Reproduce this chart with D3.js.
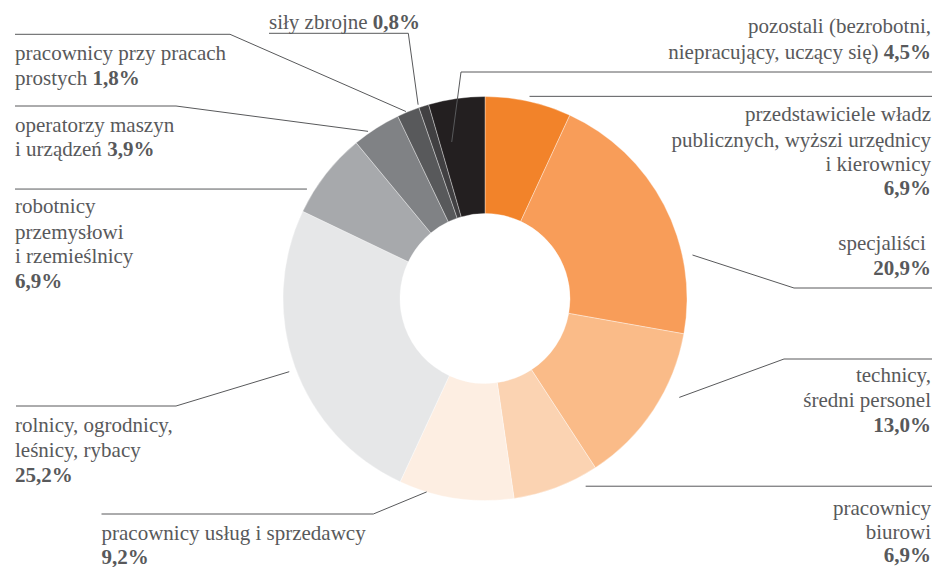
<!DOCTYPE html>
<html>
<head>
<meta charset="utf-8">
<script src="https://cdn.jsdelivr.net/npm/d3@7"></script>
<style>
  html, body { margin: 0; padding: 0; background: #fff; }
  svg { display: block; }
  text { font-family: "Liberation Serif", "Times New Roman", serif; font-size: 21px; fill: #58595b; }
  .pct { font-weight: bold; }
</style>
</head>
<body>
<svg id="chart" width="936" height="567"></svg>
<script>
// ---- data ----
const categories = [
  "przedstawiciele władz publicznych, wyżsi urzędnicy i kierownicy",
  "specjaliści",
  "technicy, średni personel",
  "pracownicy biurowi",
  "pracownicy usług i sprzedawcy",
  "rolnicy, ogrodnicy, leśnicy, rybacy",
  "robotnicy przemysłowi i rzemieślnicy",
  "operatorzy maszyn i urządzeń",
  "pracownicy przy pracach prostych",
  "siły zbrojne",
  "pozostali (bezrobotni, niepracujący, uczący się)"
];
const values = [6.9, 20.9, 13.0, 6.9, 9.2, 25.2, 6.9, 3.9, 1.8, 0.8, 4.5];
const colors = ["#f2832a", "#f89d59", "#fabb88", "#fbd3b2", "#fdeee2", "#e6e7e8",
                "#a7a9ac", "#808285", "#58595b", "#414042", "#231f20"];
const labelLines = [
  ["przedstawiciele władz", "publicznych, wyższi urzędnicy", "i kierownicy"],
  ["specjaliści\u00a0"],
  ["technicy,", "średni personel"],
  ["pracownicy", "biurowi"],
  ["pracownicy usług i sprzedawcy"],
  ["rolnicy, ogrodnicy,", "leśnicy, rybacy"],
  ["robotnicy", "przemysłowi", "i rzemieślnicy"],
  ["operatorzy maszyn", "i urządzeń"],
  ["pracownicy przy pracach", "prostych"],
  ["siły zbrojne"],
  ["pozostali (bezrobotni,", "niepracujący, uczący się)"]
];

// ---- layout (positions only) ----
const W = 936, H = 567;
const cx = 485, cy = 298.5, rOuter = 202, rInner = 85;
const layout = [
  { r: 207, da: 0,    elbow: null,          end: 932, tx: 931, anchor: "end",   base: [121, 146.5, 171, 195], inline: false },
  { r: 212, da: 15.7, elbow: [794, 288],    end: 932, tx: 931, anchor: "end",   base: [250, 275], inline: false },
  { r: 218, da: -6.5, elbow: [784, 359],    end: 932, tx: 931, anchor: "end",   base: [382, 407, 432], inline: false },
  { r: 213, da: -7.5, elbow: null,          end: 932, tx: 931, anchor: "end",   base: [515, 538.5, 562], inline: false },
  { r: 202, da: 8.5,  elbow: [373.3, 514],  end: 101.5, tx: 101.5, anchor: "start", base: [540, 563.5], inline: false },
  { r: 209, da: -0.7, elbow: [176, 406],    end: 16,  tx: 15,  anchor: "start", base: [431.7, 457, 481.7], inline: false },
  { r: 209, da: -6.4, elbow: null,          end: 15,  tx: 15,  anchor: "start", base: [213, 238.5, 263, 288], inline: false },
  { r: 204, da: -2.4, elbow: [176, 106],    end: 15,  tx: 15,  anchor: "start", base: [131.5, 156], inline: true },
  { r: 203, da: -0.6, elbow: [230, 34.3],   end: 15,  tx: 15,  anchor: "start", base: [60, 85], inline: true },
  { r: 205, da: -1.4, elbow: [408.3, 33.3], end: 269, tx: 269, anchor: "start", base: [29], inline: true },
  { r: 160, da: -3.9, elbow: [461, 72],     end: 932, tx: 931, anchor: "end",   base: [33, 59], inline: true }
];

const fmtPct = v => d3.format(".1f")(v).replace(".", ",") + "%";

const svg = d3.select("#chart");
const pie = d3.pie().sort(null).value(d => d)(values);
const arc = d3.arc().innerRadius(rInner).outerRadius(rOuter);

const g = svg.append("g").attr("transform", `translate(${cx},${cy})`);
g.selectAll("path.slice").data(pie).join("path")
  .attr("class", "slice")
  .attr("d", arc)
  .attr("fill", (d, i) => colors[i])
  .attr("stroke", "#ffffff")
  .attr("stroke-opacity", 0.6)
  .attr("stroke-width", 0.6);

// leader lines
const pt = (a, r) => [cx + r * Math.sin(a), cy - r * Math.cos(a)];
const lineGen = d3.line();
pie.forEach((d, i) => {
  const L = layout[i];
  const a = (d.startAngle + d.endAngle) / 2 + L.da * Math.PI / 180;
  const s = pt(a, L.r);
  const pts = [s];
  if (L.elbow) { pts.push(L.elbow); pts.push([L.end, L.elbow[1]]); }
  else { pts.push([L.end, s[1]]); }
  svg.append("path")
    .attr("d", lineGen(pts))
    .attr("fill", "none")
    .attr("stroke", "#58595b")
    .attr("stroke-width", 1);
});

// labels
pie.forEach((d, i) => {
  const L = layout[i];
  const lines = labelLines[i];
  lines.forEach((ln, j) => {
    const t = svg.append("text")
      .attr("x", L.tx).attr("y", L.base[j])
      .attr("text-anchor", L.anchor);
    t.append("tspan").text(ln);
    if (L.inline && j === lines.length - 1) {
      t.append("tspan").attr("class", "pct").text(" " + fmtPct(values[i]));
    }
  });
  if (!L.inline) {
    svg.append("text")
      .attr("class", "pct")
      .attr("x", L.tx).attr("y", L.base[lines.length])
      .attr("text-anchor", L.anchor)
      .text(fmtPct(values[i]));
  }
});
</script>
</body>
</html>
